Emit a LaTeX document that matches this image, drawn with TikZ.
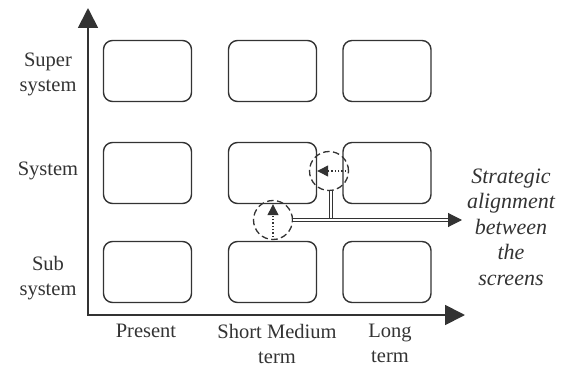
\documentclass[tikz,border=0pt]{standalone}
\usepackage{fontspec}
\setmainfont{Liberation Serif}
\usetikzlibrary{arrows.meta,calc}
\definecolor{ink}{HTML}{333333}
\begin{document}
\begin{tikzpicture}[x=1pt,y=-1pt,
  screen/.style={draw=ink, line width=1.4pt, rounded corners=9pt,
    minimum width=88pt, minimum height=61pt, inner sep=0pt},
  axis/.style={draw=ink, line width=1.8pt, line join=miter,
    {Triangle[length=20pt,width=20pt]}-{Triangle[length=20pt,width=20pt]}},
  lbl/.style={text=ink, font=\fontsize{20.5}{25}\selectfont, align=center, inner sep=0pt},
  note/.style={lbl, font=\fontsize{22}{25.5}\selectfont\itshape},
  focus/.style={draw=ink, dash pattern=on 6.5pt off 3.5pt, line width=1.3pt,
    circle, minimum size=39pt, inner sep=0pt},
  link/.style={draw=ink, dotted, line width=1.3pt, -{Triangle[length=11pt,width=11pt]}},
  dbl/.style={draw=ink, double=white, double distance=2.6pt, line width=1.1pt}]
\useasboundingbox (0,0) rectangle (563,369);

% axes
\coordinate (O) at (88,315);
\coordinate (ytip) at (88,8);
\coordinate (xtip) at (465,315);
\draw[axis] (ytip) -- (O) -- (xtip);

% screens: rows (super system, system, sub system) x columns (present, short/medium, long)
\node[screen] (b11) at (147.5,71) {};
\node[screen] (b12) at (272.5,71) {};
\node[screen] (b13) at (387,71) {};
\node[screen] (b21) at (147.5,173) {};
\node[screen] (b22) at (272.5,173) {};
\node[screen] (b23) at (387,173) {};
\node[screen] (b31) at (147.5,272) {};
\node[screen] (b32) at (272.5,272) {};
\node[screen] (b33) at (387,272) {};

% row labels
\node[lbl] (lsuper) at (48,74) {Super\\system};
\node[lbl] (lsys) at (48,171) {System};
\node[lbl] (lsub) at (48,278.5) {Sub\\system};

% column labels
\node[lbl, anchor=north] (lpres) at (146,324) {Present};
\node[lbl, anchor=north] (lshort) at (277,324) {Short Medium\\term};
\node[lbl, anchor=north] (llong) at (390,324) {Long\\term};

% annotation
\node[note] (al) at (511,227) {Strategic\\alignment\\between\\the\\screens};
\coordinate (atip) at (462,220);

% highlighted transitions
\node[focus] (ca) at (329,171) {};
\node[focus] (cb) at (273,220) {};
\draw[link] (ca.east) -- (ca -| b22.east);
\draw[link] (cb.south) -- (cb |- b22.south);

% double connectors towards the annotation
\draw[dbl] ($(ca.south)+(2,0)$) -- ($(ca.south |- cb.east)+(2,0)$);
\draw[dbl, -{Triangle[length=14pt,width=14pt]}] (cb.east) -- (atip);
\end{tikzpicture}
\end{document}
